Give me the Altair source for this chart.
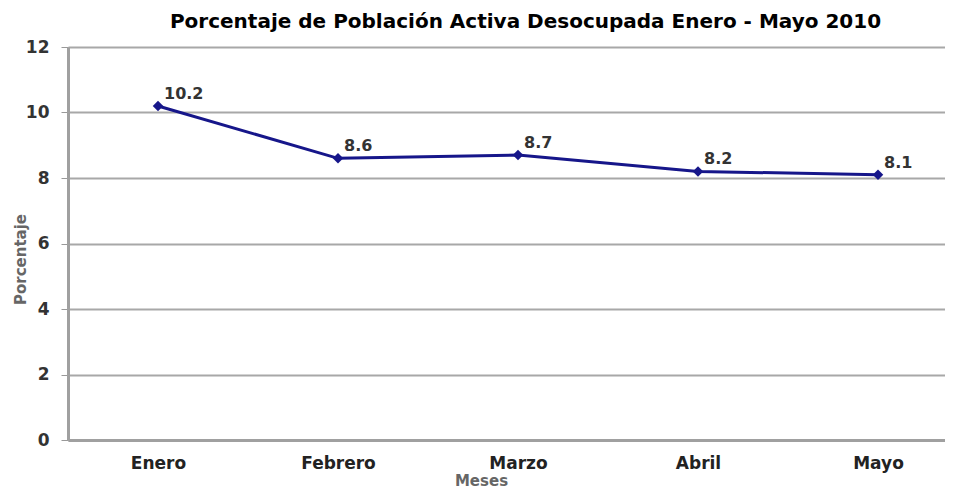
import altair as alt
import pandas as pd

meses = ["Enero", "Febrero", "Marzo", "Abril", "Mayo"]
porcentaje = [10.2, 8.6, 8.7, 8.2, 8.1]
y_ticks = [0, 2, 4, 6, 8, 10, 12]

df = pd.DataFrame({"Mes": meses, "Porcentaje": porcentaje})
df["Etiqueta"] = [f"{v:.1f}" for v in porcentaje]

FONT = "DejaVu Sans"

x = alt.X("Mes:N", sort=meses,
          scale=alt.Scale(type="point", padding=0.5, range=[0, 900]),
          axis=alt.Axis(title="Meses", labelAngle=0, labelFont=FONT, labelFontSize=17,
                        labelFontWeight="bold", labelColor="#222", labelPadding=15,
                        ticks=False, domainColor="#a0a0a0", domainWidth=3,
                        titleFont=FONT, titleFontSize=15, titleFontWeight="bold",
                        titleColor="#666", titleX=413, titleY=33, titleBaseline="top"))
y = alt.Y("Porcentaje:Q",
          scale=alt.Scale(domain=[0, 12], nice=False),
          axis=alt.Axis(values=y_ticks, title="Porcentaje", labelFont=FONT, labelFontSize=17,
                        labelFontWeight="bold", labelColor="#333", labelPadding=12,
                        tickSize=7, tickColor="#999", tickWidth=1,
                        domainColor="#a0a0a0", domainWidth=3,
                        grid=True, gridColor="#a8a8a8", gridWidth=2,
                        titleFont=FONT, titleFontSize=15, titleFontWeight="bold",
                        titleColor="#666", titleAngle=-90, titleX=-43, titleY=212,
                        titleAlign="center", titleBaseline="alphabetic"))

base = alt.Chart(df).encode(x=x, y=y)

line = base.mark_line(color="#16168a", strokeWidth=3)
points = base.mark_point(shape="diamond", filled=True, size=110, color="#16168a", opacity=1)
labels = base.mark_text(align="left", baseline="bottom", dx=6, dy=-4, font=FONT,
                        fontSize=16, fontWeight="bold", color="#333").encode(text="Etiqueta:N")

chart = (line + points + labels).properties(
    width=877, height=393,
    title=alt.TitleParams("Porcentaje de Población Activa Desocupada Enero - Mayo 2010",
                          font=FONT, fontSize=20, fontWeight="bold", color="#000",
                          anchor="middle", dx=19, offset=6),
    autosize=alt.AutoSizeParams(type="none"),
    padding={"left": 60, "top": 39, "right": 0, "bottom": 48},
).configure_view(stroke=None).configure(background="white")

chart.save("out.html", embed_options={"renderer": "svg", "actions": False})
